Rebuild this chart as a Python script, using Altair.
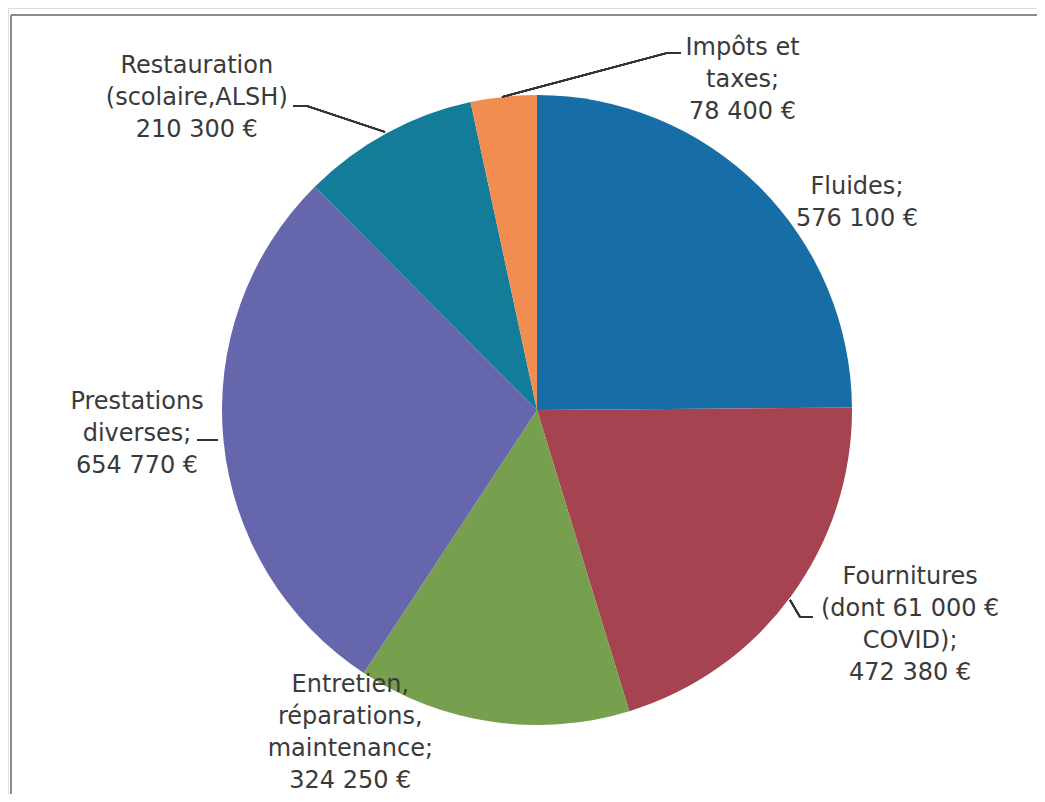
import math
import altair as alt
import pandas as pd

# ---- data ----
categories = ["Fluides", "Fournitures", "Entretien", "Prestations", "Restauration", "Impots"]
label_names = [
    "Fluides;",
    "Fournitures\n(dont 61 000 €\nCOVID);",
    "Entretien,\nréparations,\nmaintenance;",
    "Prestations\ndiverses;",
    "Restauration\n(scolaire,ALSH)",
    "Impôts et\ntaxes;",
]
values = [576100, 472380, 324250, 654770, 210300, 78400]
colors = ["#176ea6", "#a54450", "#76a04d", "#6666ad", "#137c98", "#f28d52"]

def fmt(v):
    return f"{v:,}".replace(",", " ") + " €"

df = pd.DataFrame({
    "cat": categories,
    "value": values,
    "order": list(range(len(categories))),
    "label": [n + "\n" + fmt(v) for n, v in zip(label_names, values)],
})

CX, CY, R = 529, 402, 315
FONT = "DejaVu Sans"
TXT = "#3a3a3a"
LH = 32

base = alt.Chart(df)

pie = base.mark_arc(radius=R, stroke=None).encode(
    theta=alt.Theta("value:Q", stack=True),
    order=alt.Order("order:Q"),
    color=alt.Color("cat:N", scale=alt.Scale(domain=categories, range=colors), legend=None),
    x=alt.value(CX),
    y=alt.value(CY),
)

ang = base.transform_joinaggregate(total="sum(value)").transform_window(
    cum="sum(value)", sort=[alt.SortField("order")]
).transform_calculate(
    ang="2*PI*(datum.cum - datum.value/2)/datum.total"
)

# label placement: radius, dx, dy (block centre) per category
place = {
    "Fluides": (372, 58, 57),
    "Fournitures": (428, 28, -38),
    "Entretien": (350, -137, -23),
    "Prestations": (400, -2, -16),
    "Restauration": (436, -132, 71),
    "Impots": (306, 238, -26),
}

texts = []
for c, lbl in zip(categories, df["label"]):
    r, dx, dy = place[c]
    nlines = lbl.count("\n") + 1
    texts.append(
        ang.transform_filter(alt.datum.cat == c).mark_text(
            radius=r, dx=dx, dy=dy - (nlines - 1) * LH / 2, font=FONT, fontSize=24, color=TXT,
            align="center", baseline="middle", lineBreak="\n", lineHeight=LH,
        ).encode(
            theta=alt.Theta("ang:Q", scale=None, stack=False),
            text="label:N",
            x=alt.value(CX),
            y=alt.value(CY),
        )
    )

def seg(x1, y1, x2, y2, color="#333333", w=1.5):
    return base.mark_rule(color=color, strokeWidth=w).encode(
        x=alt.value(x1), y=alt.value(y1), x2=alt.value(x2), y2=alt.value(y2)
    )

leaders = [
    seg(285, 98, 299, 98), seg(299, 98, 377, 124),
    seg(659, 45, 673, 45), seg(659, 45, 494, 89),
    seg(189, 432, 210, 432),
    seg(782, 592, 792, 609), seg(792, 609, 805, 609),
]

border = [
    seg(3, 7, 1100, 7, color="#8a8a8a", w=2),
    seg(3, 7, 3, 900, color="#8a8a8a", w=2),
]

chart = alt.layer(pie, *texts, *leaders, *border).properties(
    width=1029, height=786, padding=0,
    autosize=alt.AutoSizeParams(type="none"),
).configure_view(stroke=None).configure(background="white")

chart.save("out.html", embed_options={"renderer": "svg", "actions": False})
